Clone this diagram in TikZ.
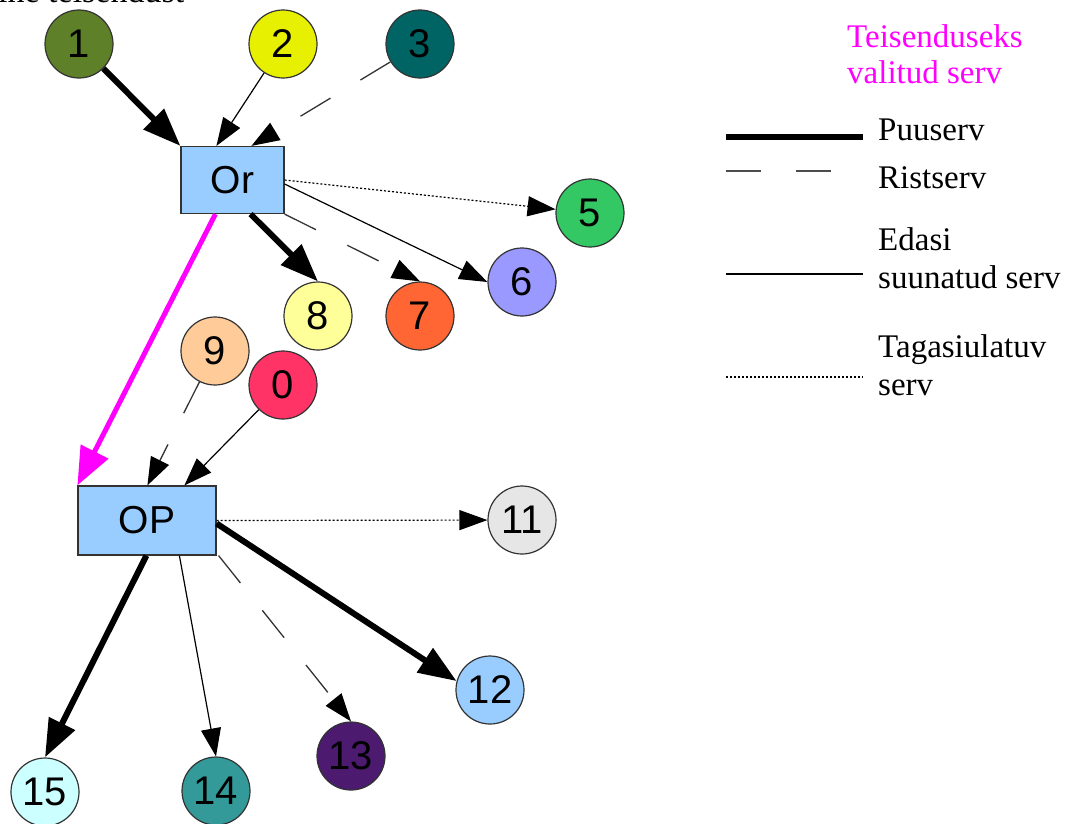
\documentclass[tikz,border=0pt]{standalone}
\usepackage{fontspec}
\setmainfont{Liberation Serif}
\newfontfamily\labelfont{Liberation Sans}
\usetikzlibrary{arrows.meta,calc}

% node fill colours
\definecolor{cOne}{RGB}{94,128,40}
\definecolor{cTwo}{RGB}{230,240,0}
\definecolor{cThree}{RGB}{0,100,100}
\definecolor{cFive}{RGB}{52,200,100}
\definecolor{cSix}{RGB}{153,153,255}
\definecolor{cSeven}{RGB}{255,102,51}
\definecolor{cEight}{RGB}{255,255,153}
\definecolor{cNine}{RGB}{255,204,153}
\definecolor{cZero}{RGB}{255,51,102}
\definecolor{cEleven}{RGB}{230,230,230}
\definecolor{cTwelve}{RGB}{153,204,255}
\definecolor{cThirteen}{RGB}{76,26,110}
\definecolor{cFourteen}{RGB}{51,153,153}
\definecolor{cFifteen}{RGB}{204,255,255}
\definecolor{boxblue}{RGB}{153,204,255}
\definecolor{pickmag}{RGB}{255,0,255}

\begin{document}
\begin{tikzpicture}[x=1pt,y=-1pt,
  vertex/.style={circle,draw=black!80,line width=1.2pt,minimum size=68pt,inner sep=0pt,
    font=\labelfont\fontsize{40}{40}\selectfont},
  opbox/.style={rectangle,draw=black!80,line width=1.2pt,fill=boxblue,inner sep=0pt,
    font=\labelfont\fontsize{39}{39}\selectfont},
  smalltip/.style={-{Triangle[length=28pt,width=20pt,color=black]}},
  tree/.style={line width=6pt,-{Triangle[length=38pt,width=28pt]}},
  cross/.style={line width=1.3pt,draw=black!80,dash pattern=on 35pt off 35pt,smalltip},
  fwd/.style={line width=1.2pt,smalltip},
  back/.style={line width=1.2pt,dash pattern=on 2pt off 2pt,smalltip},
  chosen/.style={line width=5pt,draw=pickmag,-{Triangle[length=38pt,width=30pt]}},
  legtext/.style={anchor=base west,inner sep=0pt,font=\fontsize{33}{38}\selectfont},
]
\useasboundingbox (0,0) rectangle (1073,823);

% heading line running off the top edge
\node[anchor=base west,inner sep=0pt,font=\fontsize{34}{34}\selectfont] (head) at (-2,2) {ine teisendust};

% vertices
\node[vertex,fill=cOne]      (n1)  at (79,44)   {1};
\node[vertex,fill=cTwo]      (n2)  at (283,44)  {2};
\node[vertex,fill=cThree]    (n3)  at (420,44)  {3};
\node[vertex,fill=cFive]     (n5)  at (590,213) {5};
\node[vertex,fill=cSix]      (n6)  at (522,282) {6};
\node[vertex,fill=cSeven]    (n7)  at (420,316) {7};
\node[vertex,fill=cEight]    (n8)  at (318,316) {8};
\node[vertex,fill=cNine]     (n9)  at (215,351) {9};
\node[vertex,fill=cZero]     (n0)  at (283,385) {0};
\node[vertex,fill=cEleven]   (n11) at (522,520) {11};
\node[vertex,fill=cTwelve]   (n12) at (490,690) {12};
\node[vertex,fill=cThirteen] (n13) at (351,756) {13};
\node[vertex,fill=cFourteen] (n14) at (216,791) {14};
\node[vertex,fill=cFifteen]  (n15) at (45,792)  {15};

\node[opbox,minimum width=103pt,minimum height=67pt] (Or) at (232.5,180) {Or};
\node[opbox,minimum width=138pt,minimum height=69pt] (OP) at (147,520.5) {OP};

% edges into Or
\draw[tree]  (n1) -- (Or.north west);
\draw[fwd]   (n2) -- ($(Or.north west)+(36,0)$);
\draw[cross] (n3) -- ($(Or.north west)+(71,0)$);

% edges out of Or
\draw[back]  (Or.east) -- (n5);
\draw[fwd]   ($(Or.east)+(0,4)$) -- (n6.west);
\draw[cross] (Or.south east) -- (n7.north);
\draw[tree]  ($(Or.south east)+(-34,0)$) -- (n8.north);
\draw[chosen] ($(Or.south west)+(35,0)$) -- (OP.north west);

% edges into OP
\draw[cross] (n9) -- ($(OP.north west)+(70,0)$);
\draw[fwd]   (n0) -- ($(OP.north west)+(107,0)$);

% edges out of OP
\draw[back]  (OP.east) -- (n11);
\draw[tree]  ($(OP.east)+(0,3)$) -- (n12.165);
\draw[cross] ($(OP.south east)+(2,0)$) -- (n13.north);
\draw[fwd]   ($(OP.south west)+(102,0)$) -- (n14.north);
\draw[tree]  ($(OP.south west)+(69,0)$) -- (n15.north);

% legend
\node[legtext,text=pickmag] (lgA) at (847,47) {Teisenduseks};
\node[legtext,text=pickmag] (lgB) at (847,83) {valitud serv};

\draw[line width=6pt] (726,137) -- (863,137);
\node[legtext] (lgC) at (878,140) {Puuserv};

\draw[line width=1.3pt,draw=black!70,dash pattern=on 35pt off 35pt] (726,171) -- (831,171);
\node[legtext] (lgD) at (878,188) {Ristserv};

\draw[line width=1.2pt] (726,274) -- (863,274);
\node[legtext] (lgE) at (878,250) {Edasi};
\node[legtext] (lgF) at (878,288) {suunatud serv};

\draw[line width=1.2pt,dash pattern=on 2pt off 2pt] (726,377) -- (863,377);
\node[legtext] (lgG) at (878,357) {Tagasiulatuv};
\node[legtext] (lgH) at (878,395) {serv};
\end{tikzpicture}
\end{document}
